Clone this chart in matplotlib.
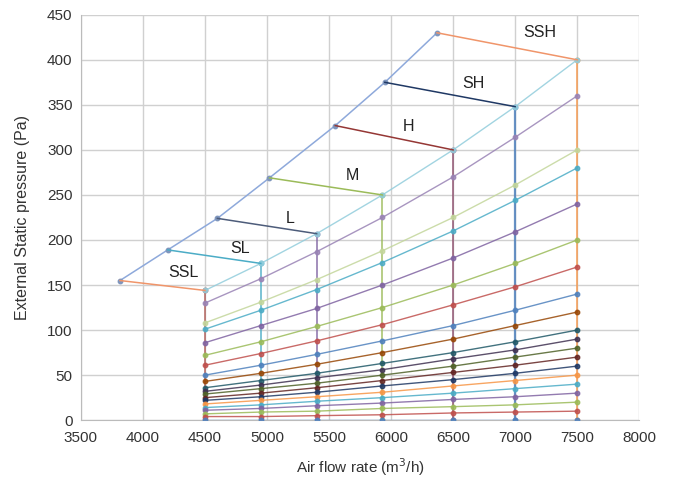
import matplotlib
matplotlib.use("Agg")
import matplotlib.pyplot as plt

plt.rcParams['font.family'] = ['Liberation Sans', 'DejaVu Sans']

# x positions of the points on each resistance curve
flow_x = [4500, 4950, 5400, 5930, 6500, 7000, 7500]

# resistance curves (Pa) read at each flow_x, from top to bottom
curves = [
    [144, 174, 207, 250, 300, 348, 400],
    [130, 157, 187, 225, 270, 314, 360],
    [108, 131, 156, 188, 225, 261, 300],
    [101, 122, 145, 175, 210, 244, 280],
    [86, 105, 124, 150, 180, 209, 240],
    [72, 87, 104, 125, 150, 174, 200],
    [61, 74, 88, 106, 128, 148, 170],
    [50, 61, 73, 88, 105, 122, 140],
    [43, 52, 62, 75, 90, 105, 120],
    [36, 44, 52, 63, 75, 87, 100],
    [32, 39, 47, 56, 68, 78, 90],
    [29, 35, 41, 50, 60, 70, 80],
    [25, 30, 36, 44, 53, 61, 70],
    [22, 26, 31, 38, 45, 52, 60],
    [18, 22, 26, 31, 38, 44, 50],
    [14, 17, 21, 25, 30, 35, 40],
    [11, 13, 16, 19, 23, 26, 30],
    [7, 9, 10, 13, 15, 17, 20],
    [4, 4, 5, 6, 8, 9, 10],
    [0, 0, 0, 0, 0, 0, 0],
]
curve_colors = [
    "#92CDDC", "#9983B5", "#C3D69B", "#4BACC6", "#8064A2", "#9BBB59",
    "#C0504D", "#4F81BD", "#984807", "#215968", "#3F3151", "#4F6228",
    "#632523", "#1F3864", "#F79646", "#4BACC6", "#8064A2", "#9BBB59",
    "#C0504D", "#4F81BD",
]

# fan speed steps: left (free) point and right (max) point
speed_labels = ["SSL", "SL", "L", "M", "H", "SH", "SSH"]
left_x = [3815, 4200, 4600, 5020, 5550, 5950, 6370]
left_y = [155, 189, 224, 269, 327, 375, 430]
right_x = [4500, 4950, 5400, 5930, 6500, 7000, 7500]
right_y = [144, 174, 207, 250, 300, 348, 400]
speed_colors = ["#F0956A", "#4BACC6", "#4D5C7A", "#9BBB59", "#953735", "#1F3864", "#F0956A"]
vert_colors = ["#B05A55", "#4BACC6", "#8064A2", "#9BBB59", "#8C4A6A", "#4F81BD", "#F79646"]
label_x = [4330, 4780, 5185, 5690, 6140, 6660, 7195]
label_y = [164, 191, 224, 272, 326, 374, 430]

x_ticks = [3500, 4000, 4500, 5000, 5500, 6000, 6500, 7000, 7500, 8000]
y_ticks = [0, 50, 100, 150, 200, 250, 300, 350, 400, 450]

fig = plt.figure(figsize=(6.8, 4.92), dpi=100)
ax = fig.add_axes([0.119, 0.146, 0.821, 0.824])

# vertical lines at the max points
for xv, yv, c in zip(right_x, right_y, vert_colors):
    ax.plot([xv, xv], [yv, 0], color=c, lw=1.6 if xv == 7000 else 1.2, alpha=0.85,
            marker="o", ms=3.2, zorder=2)

# resistance curves
for ys, c in zip(curves, curve_colors):
    ax.plot(flow_x, ys, color=c, lw=1.0, alpha=0.85, marker="o", ms=3.2, zorder=3)

# envelope of free-flow points
ax.plot(left_x, left_y, color="#8EA9DB", lw=1.1, marker="o", ms=3.2,
        markerfacecolor="#7F96BD", markeredgecolor="#7F96BD", zorder=4)

# speed segments
for lx, ly, rx, ry, c in zip(left_x, left_y, right_x, right_y, speed_colors):
    ax.plot([lx, rx], [ly, ry], color=c, lw=1.1, zorder=4)

for t, tx, ty in zip(speed_labels, label_x, label_y):
    ax.text(tx, ty, t, ha="center", va="center", fontsize=11.5, color="#222222", zorder=5)

ax.set_xlim(3500, 8000)
ax.set_ylim(0, 450)
ax.set_xticks(x_ticks)
ax.set_yticks(y_ticks)
ax.tick_params(labelsize=11, length=0, colors="#333333")
ax.tick_params(axis="x", pad=8)
ax.tick_params(axis="y", pad=6)
ax.grid(True, color="#D0D0D0", lw=1.0)
ax.set_axisbelow(True)
for s in ["top", "right"]:
    ax.spines[s].set_visible(False)
for s in ["left", "bottom"]:
    ax.spines[s].set_color("#BBBBBB")

ax.set_xlabel("Air flow rate (m$^3$/h)", fontsize=11, color="#333333", labelpad=8)
ax.set_ylabel("External Static pressure (Pa)", fontsize=11.5, color="#333333", labelpad=12)

fig.savefig("out.png", dpi=100)
